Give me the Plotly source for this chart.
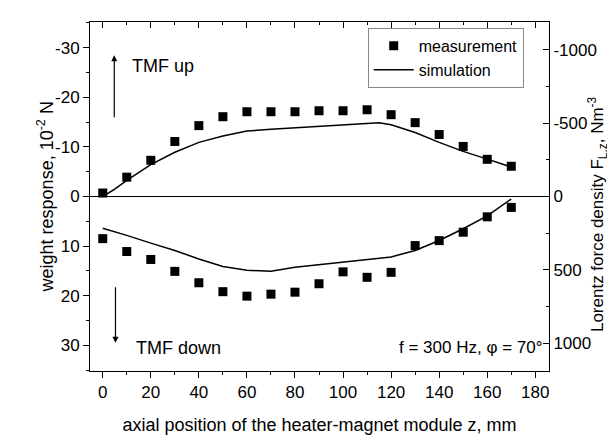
import plotly.graph_objects as go

# ---- data ----
z = [0, 10, 20, 30, 40, 50, 60, 70, 80, 90, 100, 110, 120, 130, 140, 150, 160, 170]
meas_up = [-0.7, -3.9, -7.3, -11.1, -14.3, -16.1, -17.1, -17.1, -17.1, -17.3, -17.3, -17.5,
           -16.5, -14.9, -12.5, -10.1, -7.5, -6.1]
meas_down = [8.5, 11.1, 12.7, 15.1, 17.4, 19.2, 20.1, 19.7, 19.3, 17.6, 15.2, 16.3,
             15.3, 9.9, 8.9, 7.2, 4.1, 2.2]

z_sim = [0, 5, 10, 20, 30, 40, 50, 60, 70, 80, 90, 100, 110, 115, 120, 130, 140, 150, 160, 170]
sim_up = [0, -50, -110, -218, -302, -369, -412, -446, -459, -469, -479, -492, -503, -503,
          -489, -436, -369, -308, -255, -201]
sim_down = [216, 240, 265, 318, 368, 426, 477, 503, 510, 483, 466, 450, 430, 421,
            412, 368, 300, 220, 132, 17]

x_ticks = [0, 20, 40, 60, 80, 100, 120, 140, 160, 180]
yl_ticks = [-30, -20, -10, 0, 10, 20, 30]
yl_labels = ["-30", "-20", "-10", "0", "10", "20", "30"]
yr_ticks = [-1000, -500, 0, 500, 1000]
yr_labels = ["-1000", "-500", "0", "500", "1000"]

FONT = "Liberation Sans, Arial, sans-serif"
FS = 17
FT = 18

fig = go.Figure()

fig.add_trace(go.Scatter(x=z, y=meas_up, mode="markers", name="measurement",
                         marker=dict(symbol="square", size=9, color="black"),
                         xaxis="x", yaxis="y"))
fig.add_trace(go.Scatter(x=z, y=meas_down, mode="markers", name="measurement",
                         showlegend=False,
                         marker=dict(symbol="square", size=9, color="black"),
                         xaxis="x", yaxis="y"))
fig.add_trace(go.Scatter(x=z_sim, y=sim_up, mode="lines", name="simulation",
                         line=dict(color="black", width=1.5),
                         xaxis="x", yaxis="y2"))
fig.add_trace(go.Scatter(x=z_sim, y=sim_down, mode="lines", name="simulation",
                         showlegend=False,
                         line=dict(color="black", width=1.5),
                         xaxis="x", yaxis="y2"))
# invisible trace to activate top axis
fig.add_trace(go.Scatter(x=[0], y=[0], mode="markers", showlegend=False,
                         marker=dict(opacity=0), hoverinfo="skip",
                         xaxis="x2", yaxis="y"))

XR = [-5.3, 185.7]
YL = [35.2, -35.2]
YR = [1190, -1190]

fig.update_layout(
    width=615, height=435,
    margin=dict(l=82, r=74, t=14, b=69),
    paper_bgcolor="white", plot_bgcolor="white",
    font=dict(family=FONT, size=FS, color="black"),
    showlegend=True,
    legend=dict(x=0.605, y=0.983, xanchor="left", yanchor="top",
                bgcolor="white", bordercolor="#888", borderwidth=1,
                font=dict(size=16), tracegroupgap=0, itemwidth=40),
    xaxis=dict(range=XR, tickvals=x_ticks, ticks="outside", ticklen=6,
               tickcolor="black", showline=True, linecolor="black", linewidth=1,
               showgrid=False, zeroline=False,
               minor=dict(ticks="outside", ticklen=3, dtick=10, tick0=0, tickcolor="black"),
               title=dict(text="axial position of the heater-magnet module z, mm",
                          standoff=16, font=dict(size=FT))),
    xaxis2=dict(range=XR, overlaying="x", side="top", tickvals=x_ticks,
                ticks="inside", ticklen=6, tickcolor="black", showticklabels=False,
                showline=True, linecolor="black", linewidth=1, showgrid=False,
                zeroline=False,
                minor=dict(ticks="inside", ticklen=3, dtick=10, tick0=0, tickcolor="black")),
    yaxis=dict(range=YL, tickvals=yl_ticks, ticktext=yl_labels, ticks="outside", ticklen=6,
               tickcolor="black", showline=True, linecolor="black", linewidth=1,
               showgrid=False, zeroline=True, zerolinecolor="black", zerolinewidth=1,
               minor=dict(ticks="outside", ticklen=3, dtick=5, tick0=0, tickcolor="black")),
    yaxis2=dict(range=YR, overlaying="y", side="right", tickvals=yr_ticks,
                ticktext=yr_labels,
                ticks="inside", ticklen=6, tickcolor="black", showline=True,
                linecolor="black", linewidth=1, showgrid=False, zeroline=False,
                minor=dict(ticks="inside", ticklen=3, dtick=250, tick0=0, tickcolor="black")),
)

# axis titles as rotated annotations
fig.add_annotation(x=-0.096, y=0.5, xref="paper", yref="paper",
                   text="weight response, 10<sup>-2</sup> N", textangle=-90,
                   showarrow=False, xanchor="center", yanchor="middle",
                   font=dict(size=FT))
fig.add_annotation(x=1.107, y=0.45, xref="paper", yref="paper",
                   text="Lorentz force density F<sub>L,z</sub>, Nm<sup>-3</sup>",
                   textangle=-90, showarrow=False, xanchor="center", yanchor="middle",
                   font=dict(size=17))

fig.add_annotation(x=4.8, y=-28.5, ax=4.8, ay=-15.7, xref="x", yref="y",
                   axref="x", ayref="y", text="", showarrow=True,
                   arrowhead=2, arrowsize=1, arrowwidth=1.2, arrowcolor="black")
fig.add_annotation(x=5.3, y=29.5, ax=5.3, ay=18.0, xref="x", yref="y",
                   axref="x", ayref="y", text="", showarrow=True,
                   arrowhead=2, arrowsize=1, arrowwidth=1.2, arrowcolor="black")
fig.add_annotation(x=11.5, y=-26.3, xref="x", yref="y", text="TMF up",
                   showarrow=False, xanchor="left", yanchor="middle",
                   font=dict(size=18))
fig.add_annotation(x=12.8, y=30.5, xref="x", yref="y", text="TMF down",
                   showarrow=False, xanchor="left", yanchor="middle",
                   font=dict(size=18))
fig.add_annotation(x=0.992, y=30.5, xref="paper", yref="y",
                   text="f = 300 Hz, \u03c6 = 70\u00b0",
                   showarrow=False, xanchor="right", yanchor="middle",
                   font=dict(size=17))

fig.write_html("out.html")
